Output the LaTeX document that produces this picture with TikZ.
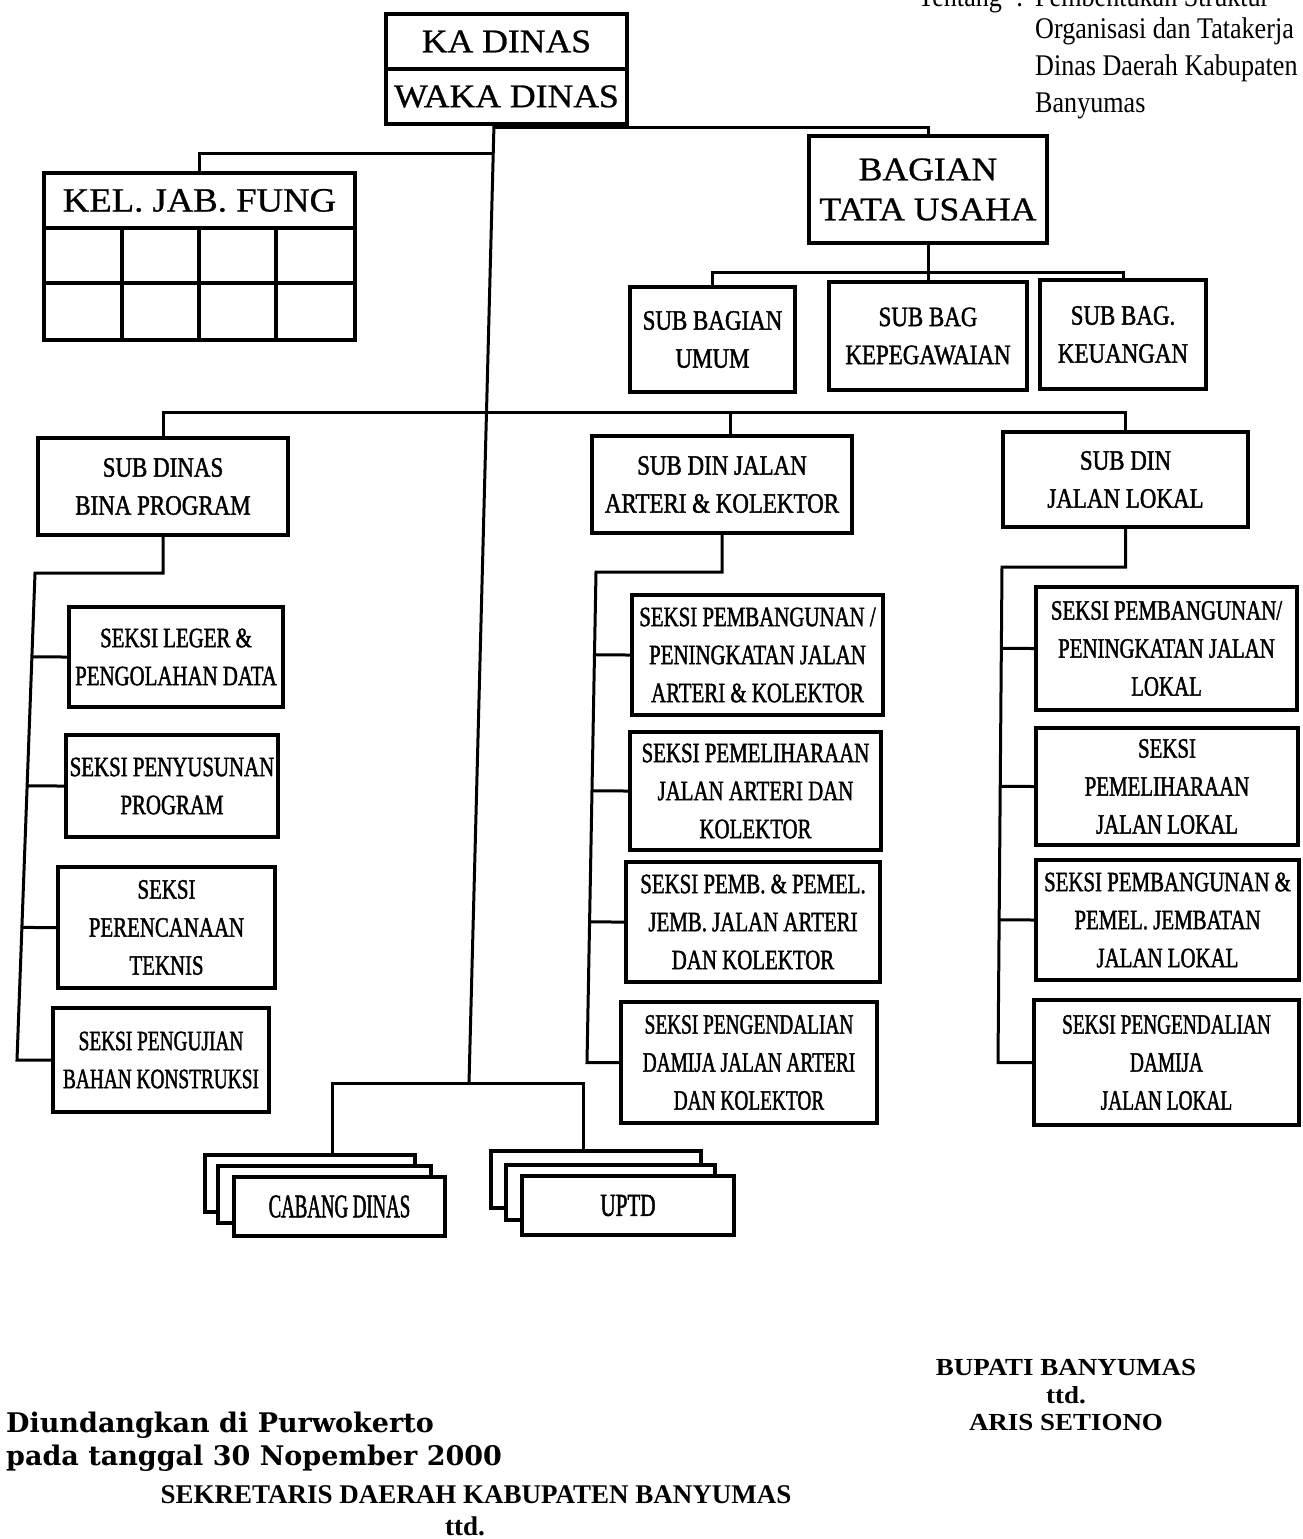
\documentclass[tikz,border=0pt]{standalone}
\usepackage{fontspec}
\setmainfont{Liberation Serif}
\newfontfamily\hdfont[FakeStretch=1.08,FakeBold=0.8]{Liberation Serif}
\newfontfamily\bxA[FakeStretch=0.69,FakeBold=1.4]{Liberation Serif}
\newfontfamily\bxB[FakeStretch=0.745,FakeBold=1.4]{Liberation Serif}
\newfontfamily\bxC[FakeStretch=0.82,FakeBold=1.4]{Liberation Serif}
\newfontfamily\bxD[FakeStretch=0.57,FakeBold=1.4]{Liberation Serif}
\newfontfamily\bxE[FakeStretch=0.66,FakeBold=1.4]{Liberation Serif}
\newfontfamily\notefont[FakeStretch=0.87]{Liberation Serif}
\newfontfamily\signfont[FakeStretch=1.1]{Liberation Serif}
\newfontfamily\sekfont[FakeStretch=1.0]{Liberation Serif}
\newfontfamily\promfont[FakeStretch=1.0]{DejaVu Serif}

% box given by its corners: name, x1, y1, x2, y2, text
\newcommand\obox[7][]{%
  \node[box,minimum width={#5-#3},minimum height={#6-#4},#1] (#2)
    at ({(#3+#5)/2},{(#4+#6)/2}) {#7};}

\begin{document}
\begin{tikzpicture}[x=1pt,y=-1pt,
  box/.style={draw,line width=3.5pt,fill=white,inner sep=0pt,align=center},
  fA/.style={font=\bxA\fontsize{28}{38}\selectfont},
  fB/.style={font=\bxB\fontsize{28}{38}\selectfont},
  fC/.style={font=\bxC\fontsize{28}{38}\selectfont},
  fD/.style={font=\bxD\fontsize{33}{38}\selectfont},
  fE/.style={font=\bxE\fontsize{32}{38}\selectfont},
  head/.style={font=\hdfont\fontsize{33}{40}\selectfont},
  conn/.style={line width=3pt},
  note/.style={inner sep=0pt,anchor=base west,font=\notefont\fontsize{30}{36}\selectfont},
  sign/.style={inner sep=0pt,anchor=base,font=\signfont\bfseries\fontsize{24.5}{30}\selectfont},
  sekr/.style={inner sep=0pt,anchor=base,font=\sekfont\bfseries\fontsize{27}{30}\selectfont},
  prom/.style={inner sep=0pt,anchor=base west,font=\promfont\bfseries\fontsize{27}{30}\selectfont}]

\useasboundingbox[fill=white] (0,0) rectangle (1303,1539);

% decree reference, top right
\node[note] (n0) at (918,6) {Tentang};
\node[note] (n0c) at (1016,6) {:};
\node[note] (n1) at (1035,6) {Pembentukan Struktur};
\node[note] (n2) at (1035,38) {Organisasi dan Tatakerja};
\node[note] (n3) at (1035,75) {Dinas Daerah Kabupaten};
\node[note] (n4) at (1035,112) {Banyumas};

% head of office and secretariat
\obox[head]{kda}{386}{14}{627}{69}{KA DINAS}
\obox[head]{kdb}{386}{69}{627}{124}{WAKA DINAS}
\obox[head,font=\hdfont\fontsize{34}{40}\selectfont]{kjf}{44}{173}{355}{228}{KEL. JAB. FUNG}
\draw[line width=3.5pt] (44,228) rectangle (355,340)
  (44,283) -- (355,283)
  (122,228) -- (122,340) (199,228) -- (199,340) (276,228) -- (276,340);
\obox[head]{bta}{809}{136}{1047}{243}{BAGIAN\\TATA USAHA}

\obox[fC]{sbu}{630}{287}{795}{392}{SUB BAGIAN\\UMUM}
\obox[fC]{sbk}{829}{282}{1027}{390}{SUB BAG\\KEPEGAWAIAN}
\obox[fC]{sbq}{1040}{280}{1206}{389}{SUB BAG.\\KEUANGAN}

% sub offices
\obox[fC]{sdb}{38}{438}{288}{535}{SUB DINAS\\BINA PROGRAM}
\obox[fC]{sda}{592}{436}{852}{533}{SUB DIN JALAN\\ARTERI \& KOLEKTOR}
\obox[fC]{sdl}{1003}{432}{1248}{527}{SUB DIN\\JALAN LOKAL}

% sections
\obox[fB]{l1}{69}{607}{283}{707}{SEKSI LEGER \&\\PENGOLAHAN DATA}
\obox[fB]{l2}{66}{735}{278}{837}{SEKSI PENYUSUNAN\\PROGRAM}
\obox[fB]{l3}{58}{867}{275}{988}{SEKSI\\PERENCANAAN\\TEKNIS}
\obox[fA]{l4}{53}{1008}{269}{1112}{SEKSI PENGUJIAN\\BAHAN KONSTRUKSI}

\obox[fB]{m1}{632}{595}{883}{715}{SEKSI PEMBANGUNAN /\\PENINGKATAN JALAN\\ARTERI \& KOLEKTOR}
\obox[fB]{m2}{630}{732}{881}{850}{SEKSI PEMELIHARAAN\\JALAN ARTERI DAN\\KOLEKTOR}
\obox[fB]{m3}{626}{862}{880}{982}{SEKSI PEMB. \& PEMEL.\\JEMB. JALAN ARTERI\\DAN KOLEKTOR}
\obox[fA]{m4}{621}{1002}{877}{1123}{SEKSI PENGENDALIAN\\DAMIJA JALAN ARTERI\\DAN KOLEKTOR}

\obox[fB]{r1}{1036}{587}{1297}{710}{SEKSI PEMBANGUNAN/\\PENINGKATAN JALAN\\LOKAL}
\obox[fB]{r2}{1036}{728}{1298}{845}{SEKSI\\PEMELIHARAAN\\JALAN LOKAL}
\obox[fB]{r3}{1036}{860}{1299}{980}{SEKSI PEMBANGUNAN \&\\PEMEL. JEMBATAN\\JALAN LOKAL}
\obox[fA]{r4}{1034}{1000}{1299}{1125}{SEKSI PENGENDALIAN\\DAMIJA\\JALAN LOKAL}

% branch offices and units, stacked
\obox{cd1}{205}{1155}{415}{1212}{}
\obox{cd2}{218}{1166}{431}{1223}{}
\obox[fD]{cd3}{234}{1177}{445}{1236}{CABANG DINAS}
\obox{ud1}{491}{1151}{701}{1208}{}
\obox{ud2}{506}{1165}{715}{1220}{}
\obox[fE]{ud3}{522}{1176}{734}{1235}{UPTD}

% junction points
\coordinate (t0) at (494,124);
\coordinate (t1) at (469,1083);
\coordinate (jb) at (928,127);
\coordinate (jk) at (493,153);
\coordinate (js) at (928,272);
\coordinate (jd) at (486,412);
\coordinate (jda) at (730,412);
\coordinate (la) at (35,573);
\coordinate (lz) at (17,1060);
\coordinate (ma) at (596,572);
\coordinate (mz) at (587,1062);
\coordinate (ra) at (1002,567);
\coordinate (rz) at (998,1062);
\coordinate (cb) at (332,1083);
\coordinate (ub) at (583,1083);

% connectors
\draw[conn] (t0) -- (t1);
\draw[conn] (t0 |- jb) -- (jb) -- (bta.north);
\draw[conn] (jk) -| (kjf.north);
\draw[conn] (bta.south) -- (sbk.north);
\draw[conn] (sbu.north) |- (js) -| (sbq.north);
\draw[conn] (sdb.north) |- (jd) -| (sdl.north);
\draw[conn] (jda) -- (jda |- sda.north);

\draw[conn] (sdb.south) |- (la) -- (lz |- l4.west) -- (l4.west);
\foreach \b in {l1,l2,l3}
  \draw[conn] (intersection of la--lz and \b.west--\b.east) -- (\b.west);

\draw[conn] (sda.south) |- (ma) -- (mz |- m4.west) -- (m4.west);
\foreach \b in {m1,m2,m3}
  \draw[conn] (intersection of ma--mz and \b.west--\b.east) -- (\b.west);

\draw[conn] (sdl.south) |- (ra) -- (rz |- r4.west) -- (r4.west);
\foreach \b in {r1,r2,r3}
  \draw[conn] (intersection of ra--rz and \b.west--\b.east) -- (\b.west);

\draw[conn] (cb |- cd1.north) -- (cb) -- (ub) -- (ub |- ud1.north);

% signatures
\node[sign] (bp1) at (1066,1375) {BUPATI BANYUMAS};
\node[sign] (bp2) at (1066,1403) {ttd.};
\node[sign] (bp3) at (1066,1430) {ARIS SETIONO};

\node[prom] (pr1) at (6,1432) {Diundangkan di Purwokerto};
\node[prom] (pr2) at (6,1465) {pada tanggal 30 Nopember 2000};
\node[sekr] (sk1) at (476,1503) {SEKRETARIS DAERAH KABUPATEN BANYUMAS};
\node[sekr] (sk2) at (465,1535) {ttd.};
\end{tikzpicture}
\end{document}
